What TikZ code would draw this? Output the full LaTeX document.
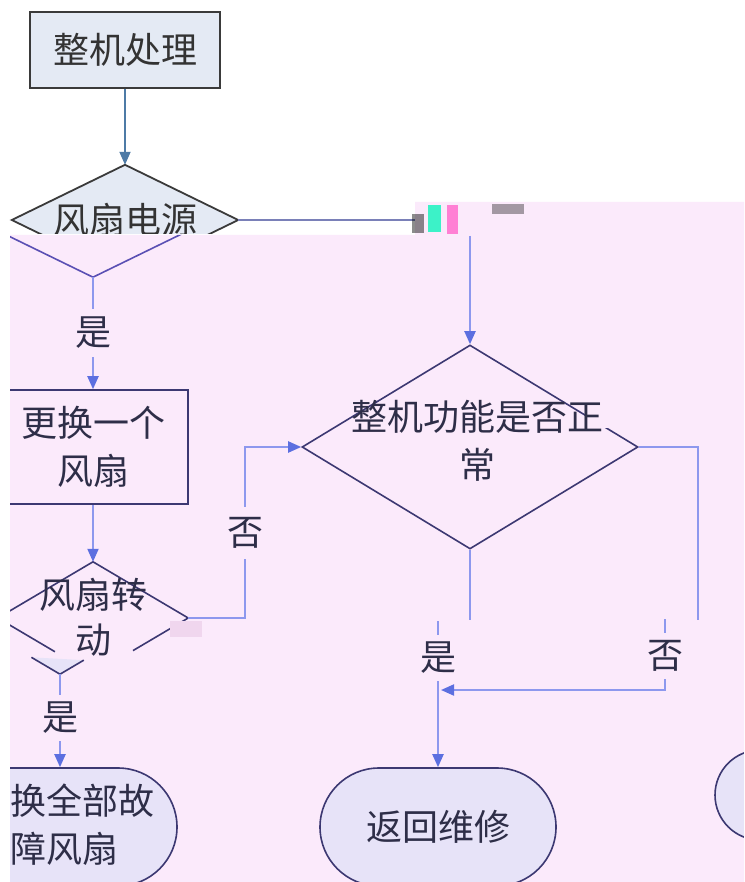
\documentclass[tikz,border=0pt]{standalone}
\usepackage{fontspec}
\setmainfont{Noto Sans CJK SC}
\usetikzlibrary{shapes.geometric,arrows.meta,calc}
\definecolor{pinkbg}{HTML}{FBEAFB}
\definecolor{topfill}{HTML}{E4EAF4}
\definecolor{topline}{HTML}{3A3A3A}
\definecolor{toparrow}{HTML}{4E7BA6}
\definecolor{navy}{HTML}{3C3872}
\definecolor{dline}{HTML}{5A50B4}
\definecolor{conn}{HTML}{8D98EE}
\definecolor{head}{HTML}{5C6FE0}
\definecolor{txt}{HTML}{2E2E48}
\definecolor{toptxt}{HTML}{333333}
\definecolor{lav}{HTML}{E7E3F8}
\definecolor{grayline}{HTML}{7A80B8}
\definecolor{glcyan}{HTML}{3CF2C8}
\definecolor{glpink}{HTML}{FF80D4}
\definecolor{glsoft}{HTML}{F0D6EE}
\begin{document}
\begin{tikzpicture}[x=1pt,y=-1pt,
  cjk/.style={font=\fontsize{36}{48}\selectfont, text=txt, align=center, inner sep=0pt},
  topbox/.style={draw=topline, line width=1.8pt, fill=topfill, minimum width=190pt, minimum height=76pt, inner sep=0pt},
  navybox/.style={draw=navy, line width=1.6pt, minimum width=190pt, minimum height=114pt},
  stadium/.style={draw=navy, line width=1.6pt, fill=lav, minimum height=118pt},
  connline/.style={draw=conn, line width=2pt},
  arr/.style={-{Triangle[length=13pt,width=11pt,color=head]}},
  lbl/.style={cjk, minimum height=46pt}
]
\useasboundingbox (0,0) rectangle (744,882);
\fill[white] (0,0) rectangle (744,882);
% pink region
\fill[pinkbg] (10,235) -- (415,235) -- (415,202) -- (744,202) -- (744,882) -- (10,882) -- cycle;

% ---------- top (white) part ----------
\node[topbox, cjk, text=toptxt] (p) at (125,50) {整机处理};
\node[diamond, inner sep=0pt, minimum width=226pt, minimum height=110pt] (d1) at (125,220) {};
\begin{scope}
  \clip (0,0) rectangle (744,234);
  \draw[topline, line width=1.8pt, fill=topfill] (d1.north) -- (d1.east) -- (d1.south) -- (d1.west) -- cycle;
  \node[cjk, text=toptxt] (d1t) at (125,220) {风扇电源};
\end{scope}
\draw[toparrow, line width=1.8pt, -{Triangle[length=13pt,width=11pt]}] (p.south) -- (d1.north);
\coordinate (g1) at (415,220);
\draw[grayline, line width=1.6pt] (d1.east) -- (g1);

% glitch artifacts near the top line
\fill[black, opacity=.45] (412,214) rectangle (424,233);
\fill[glcyan] (428,205) rectangle (441,232);
\fill[glpink] (447,205) rectangle (458,234);
\fill[black, opacity=.35] (492,204) rectangle (524,214);

% ---------- pink part ----------
\begin{scope}
\clip (10,235) -- (415,235) -- (415,202) -- (744,202) -- (744,882) -- (10,882) -- cycle;

% shifted lower half of the first diamond
\node[diamond, inner sep=0pt, minimum width=226pt, minimum height=110pt] (d1b) at (93,222) {};
\draw[dline, line width=1.6pt] (d1b.west) -- (d1b.south) -- (d1b.east);

\node[lbl, minimum height=48pt] (yes1) at (93,333) {是};
\draw[connline] (d1b.south) -- (yes1.north);

\node[navybox, cjk] (b1) at (93,447) {更换一个\\风扇};
\draw[connline, arr] (yes1.south) -- (b1.north);

% diamond "风扇转动"
\node[diamond, inner sep=0pt, minimum width=190pt, minimum height=112pt] (d3) at (93,618) {};
\node[diamond, inner sep=0pt, minimum width=190pt, minimum height=112pt] (d3b) at (60,618) {};
\fill[lav] ($(d3b.west)!0.7!(d3b.south)$) -- (d3b.south) -- ($(d3b.east)!0.75!(d3b.south)$) -- cycle;
\draw[navy, line width=1.6pt] (d3.west) -- (d3.north) -- (d3.east) -- ($(d3.east)!0.58!(d3.south)$);
\draw[navy, line width=1.6pt] (d3.west) -- ($(d3.west)!0.6!(d3.south)$);
\draw[navy, line width=1.6pt] ($(d3b.west)!0.7!(d3b.south)$) -- (d3b.south) -- ($(d3b.east)!0.75!(d3b.south)$);
\node[cjk, font=\fontsize{36}{45}\selectfont] (d3t) at (93,617) {风扇转\\动};
\draw[connline, arr] (b1.south) -- (d3.north);
\fill[glsoft] (170,621) rectangle (202,637);

% big diamond
\node[diamond, draw=navy, line width=1.6pt, inner sep=0pt, minimum width=336pt, minimum height=204pt] (d2) at (470,447) {};
\fill[pinkbg] (586,396) rectangle (614,428);
\node[cjk] (d2t) at (477,441) {整机功能是否正\\常};
\coordinate (g2) at (470,236);
\draw[connline, arr] (g2) -- (d2.north);

% "否" from 风扇转动 to big diamond
\node[lbl, minimum height=52pt] (no1) at (245,533) {否};
\draw[connline] (d3.east) -- (245,618) -- (no1.south);
\draw[connline, arr] (no1.north) -- (245,447) -- (d2.west);

% lower left
\node[lbl] (yes3) at (60,718) {是};
\draw[connline] (d3b.south) -- (yes3.north);
\node[stadium, rounded corners=59pt, minimum width=230pt] (st1) at (62,827) {};
\node[cjk, align=left, anchor=west] (st1t) at (10,825) {换全部故\\障风扇};
\draw[connline, arr] (yes3.south) -- (yes3.south |- st1.north);

% outputs of big diamond
\coordinate (c1) at (698,620);
\draw[connline] (d2.east) -- (698,447) -- (c1);
\node[lbl] (no2) at (665,656) {否};
\draw[connline] (no2.north) -- ++(0,-14);
\coordinate (c2) at (470,620);
\draw[connline] (d2.south) -- (c2);
\node[lbl] (yes2) at (438,658) {是};
\draw[connline] (yes2.north) -- ++(0,-14);

\node[stadium, cjk, rounded corners=59pt, minimum width=236pt] (ret) at (438,827) {返回维修};
\draw[connline, arr] (yes2.south) -- (ret.north);
\coordinate (j) at (441,690);
\draw[connline, arr] (no2.south) -- (665,690) -- (j);

% right stadium, mostly outside
\node[stadium, rounded corners=45pt, minimum width=236pt, minimum height=90pt] (st2) at (833,795) {};
\end{scope}
\end{tikzpicture}
\end{document}
